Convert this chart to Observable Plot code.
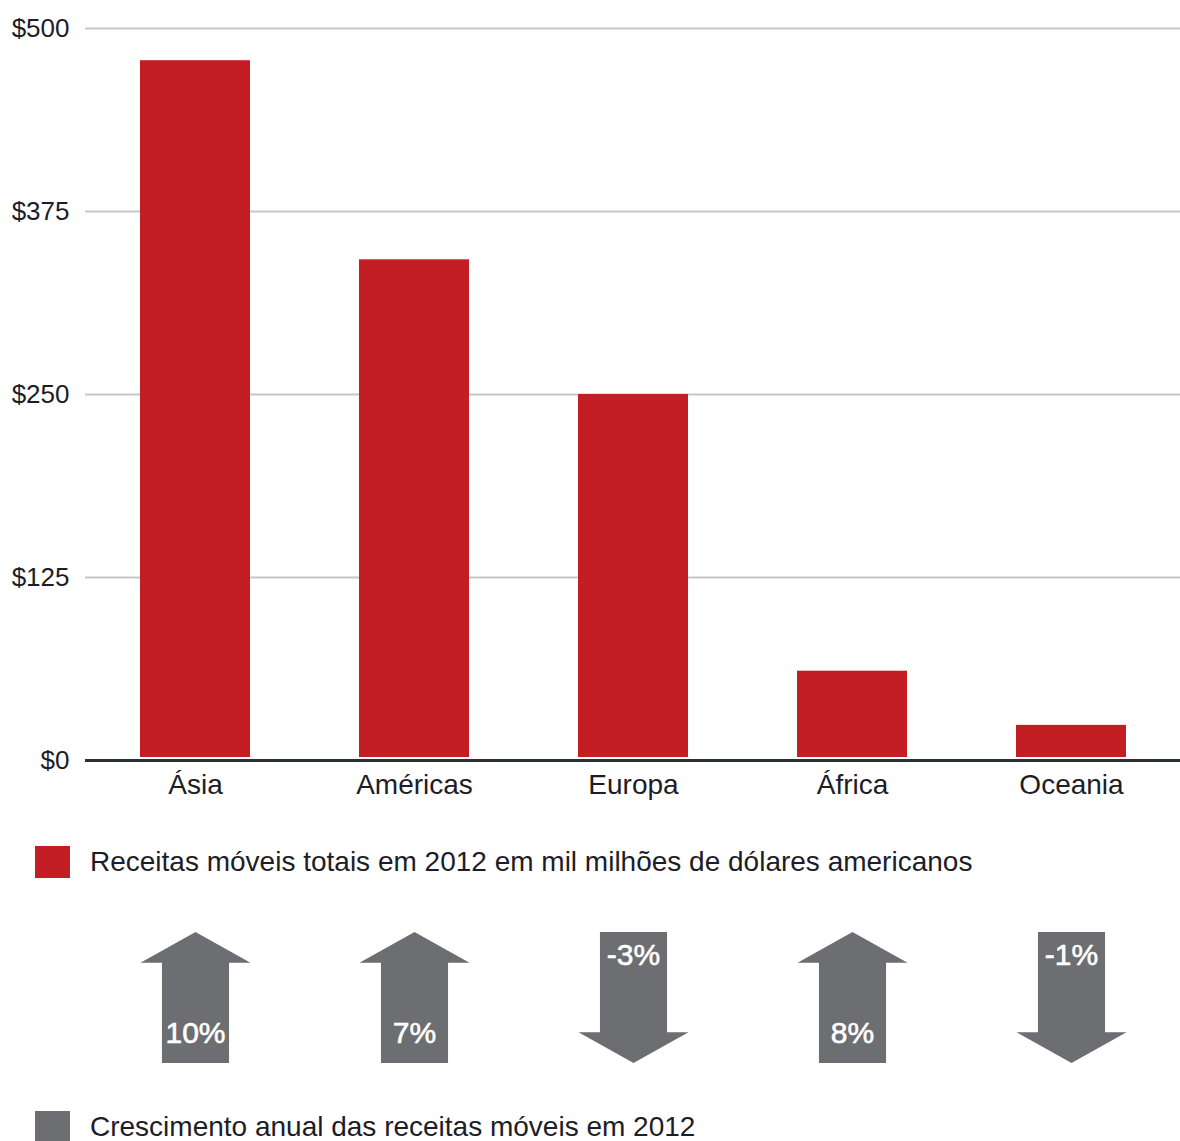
<!DOCTYPE html>
<html><head><meta charset="utf-8">
<script src="https://cdn.jsdelivr.net/npm/d3@7"></script>
<script src="https://cdn.jsdelivr.net/npm/@observablehq/plot@0.6"></script>
<style>
body{margin:0;background:#fff;font-family:"Liberation Sans",Arial,sans-serif;}
#wrap{position:relative;width:1180px;height:1141px;overflow:hidden;background:#fff;}
.abs{position:absolute;left:0}
.legend{position:absolute;left:35px;display:flex;align-items:center;font-size:28px;color:#1d1d27;white-space:nowrap;height:32px}
.sw{width:35px;height:32px;margin-right:20px;flex:none}
</style></head><body><div id="wrap"></div>
<script>
const regions = ["Ásia", "Américas", "Europa", "África", "Oceania"];
const revenue = [478, 342, 250, 61, 24];
const growth = [10, 7, -3, 8, -1];
const yTicks = [0, 125, 250, 375, 500];
const legendRevenue = "Receitas móveis totais em 2012 em mil milhões de dólares americanos";
const legendGrowth = "Crescimento anual das receitas móveis em 2012";

const red = "#c41e25", gray = "#6c6e71";
const data = regions.map((r, i) => ({region: r, revenue: revenue[i], growth: growth[i], label: `${growth[i]}%`}));
const font = '"Liberation Sans", Arial, sans-serif';
const xScale = {domain: regions, paddingInner: 0.5, paddingOuter: 0.25, label: null};

const wrap = document.getElementById("wrap");
function place(node, top) { node.classList.add("abs"); node.style.top = top + "px"; wrap.appendChild(node); }

const p1 = Plot.plot({
  width: 1180, height: 810, marginLeft: 85, marginRight: 0, marginTop: 28, marginBottom: 50,
  style: {fontFamily: font, fontSize: "28px", color: "#1d1d27", background: "transparent"},
  x: xScale,
  y: {domain: [0, 500], label: null},
  marks: [
    Plot.gridY(yTicks, {stroke: "#c3c7ca", strokeOpacity: 1, strokeWidth: 2}),
    Plot.barY(data, {x: "region", y: "revenue", fill: red, insetBottom: 3}),
    Plot.ruleY([0], {stroke: "#2b3035", strokeWidth: 3}),
    Plot.axisY(yTicks, {tickSize: 0, tickPadding: 16, tickFormat: d => "$" + d, fontSize: 26, label: null}),
    Plot.axisX({tickSize: 0, tickPadding: 14, fontSize: 28, label: null})
  ]
});
place(p1, 0);

function legend(color, text, top) {
  const d = document.createElement("div");
  d.className = "legend";
  d.style.top = top + "px";
  d.innerHTML = `<div class="sw" style="background:${color}"></div><span>${text}</span>`;
  wrap.appendChild(d);
}
legend(red, legendRevenue, 846);

const arrowShape = {
  draw(ctx, l, r) {
    const sw = r * 0.61, hh = r * 0.56;
    ctx.moveTo(-sw, 0);
    ctx.lineTo(-sw, -l + hh);
    ctx.lineTo(-r, -l + hh);
    ctx.lineTo(0, -l);
    ctx.lineTo(r, -l + hh);
    ctx.lineTo(sw, -l + hh);
    ctx.lineTo(sw, 0);
    ctx.closePath();
  }
};

const p2 = Plot.plot({
  width: 1180, height: 140, marginLeft: 85, marginRight: 0, marginTop: 0, marginBottom: 0,
  style: {fontFamily: font, background: "transparent"},
  x: {...xScale, axis: null},
  marks: [
    Plot.vector(data, {x: "region", frameAnchor: "middle", length: 131, r: 55, anchor: "middle",
      rotate: d => d.growth >= 0 ? 0 : 180, shape: arrowShape, fill: gray, stroke: "none"}),
    Plot.text(data.filter(d => d.growth >= 0), {x: "region", text: "label", frameAnchor: "bottom", lineAnchor: "middle", dy: -34,
      fill: "white", fontSize: 30, stroke: "white", strokeWidth: 0.6}),
    Plot.text(data.filter(d => d.growth < 0), {x: "region", text: "label", frameAnchor: "top", lineAnchor: "middle", dy: 28,
      fill: "white", fontSize: 30, stroke: "white", strokeWidth: 0.6})
  ]
});
place(p2, 927);

legend(gray, legendGrowth, 1111);
</script></body></html>
